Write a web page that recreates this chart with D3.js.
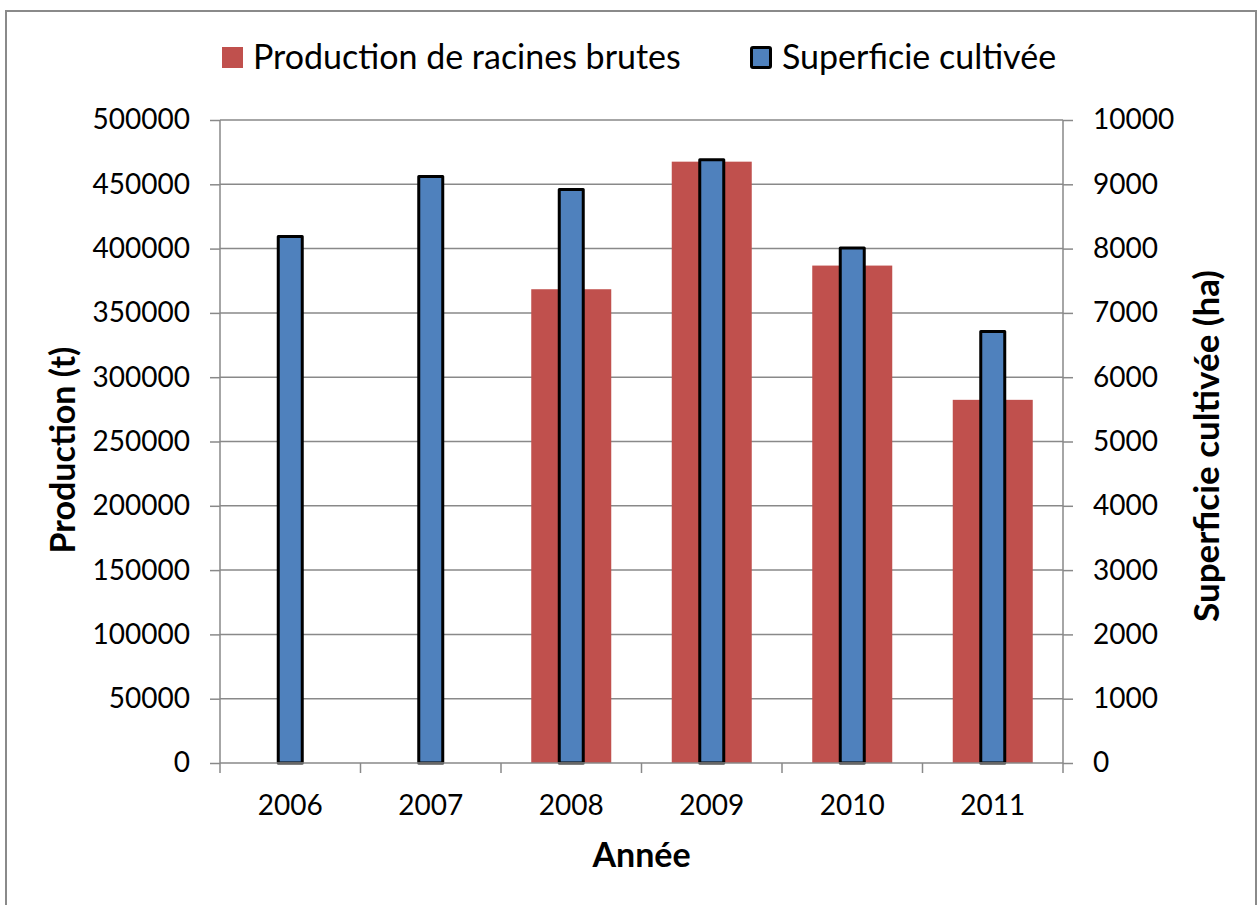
<!DOCTYPE html>
<html>
<head>
<meta charset="utf-8">
<script src="https://cdn.jsdelivr.net/npm/d3@7"></script>
<style>
  body { margin: 0; background: #fff; }
  text { font-family: Lato, "Noto Sans", sans-serif; fill: #000; }
</style>
</head>
<body>
<div class="graph"></div>
<script>
// data
var years = ["2006", "2007", "2008", "2009", "2010", "2011"];
var production = [null, null, 368400, 467600, 386800, 282400];
var superficie = [8190, 9120, 8920, 9380, 8010, 6710];
var leftTicks = [0, 50000, 100000, 150000, 200000, 250000, 300000, 350000, 400000, 450000, 500000];
var rightTicks = [0, 1000, 2000, 3000, 4000, 5000, 6000, 7000, 8000, 9000, 10000];
var seriesNames = ["Production de racines brutes", "Superficie cultivée"];

var W = 1258, H = 905;
var margin = { top: 120, right: 195, bottom: 142, left: 220 };
var width = W - margin.left - margin.right;
var height = H - margin.top - margin.bottom;

var svg = d3.select(".graph").append("svg")
  .attr("width", W)
  .attr("height", H);

// chart frame
svg.append("rect")
  .attr("x", 6).attr("y", 11)
  .attr("width", 1250).attr("height", 910)
  .attr("fill", "none").attr("stroke", "#8a8a8a").attr("stroke-width", 2);

var g = svg.append("g").attr("transform", "translate(" + margin.left + "," + margin.top + ")");

// scales
var x = d3.scaleBand().domain(years).range([0, width]).padding(0);
var yL = d3.scaleLinear().domain([0, 500000]).range([height, 0]);
var yR = d3.scaleLinear().domain([0, 10000]).range([height, 0]);

var gridColor = "#898989";

// gridlines
g.append("g").selectAll("line").data(leftTicks.slice(1)).enter().append("line")
  .attr("x1", 0).attr("x2", width)
  .attr("y1", function (d) { return yL(d); })
  .attr("y2", function (d) { return yL(d); })
  .attr("stroke", gridColor).attr("stroke-width", 1.5);

// red bars (left axis)
var redW = 80;
g.append("g").selectAll("rect")
  .data(years.map(function (y, i) { return { year: y, value: production[i] }; })
    .filter(function (d) { return d.value !== null; }))
  .enter().append("rect")
  .attr("x", function (d) { return x(d.year) + x.bandwidth() / 2 - redW / 2; })
  .attr("width", redW)
  .attr("y", function (d) { return yL(d.value); })
  .attr("height", function (d) { return height - yL(d.value); })
  .attr("fill", "#c0504d");

// blue bars (right axis)
var blueW = 24;
g.append("g").selectAll("rect")
  .data(years.map(function (y, i) { return { year: y, value: superficie[i] }; }))
  .enter().append("rect")
  .attr("x", function (d) { return x(d.year) + x.bandwidth() / 2 - blueW / 2; })
  .attr("width", blueW)
  .attr("y", function (d) { return yR(d.value); })
  .attr("height", function (d) { return height - yR(d.value); })
  .attr("fill", "#4f81bd")
  .attr("stroke", "#000").attr("stroke-width", 3)
  .attr("stroke-linejoin", "round");

// axes
var fs = 28;
var axL = g.append("g").call(d3.axisLeft(yL).tickValues(leftTicks).tickSize(10).tickPadding(20).tickFormat(d3.format("d")));
var axR = g.append("g").attr("transform", "translate(" + width + ",0)")
  .call(d3.axisRight(yR).tickValues(rightTicks).tickSize(10).tickPadding(20).tickFormat(d3.format("d")));
var axB = g.append("g").attr("transform", "translate(0," + height + ")")
  .call(d3.axisBottom(x).tickSize(0).tickPadding(32));

// category boundary ticks
axB.append("g").selectAll("line").data(d3.range(years.length + 1)).enter().append("line")
  .attr("x1", function (i) { return i * x.step(); })
  .attr("x2", function (i) { return i * x.step(); })
  .attr("y1", 0).attr("y2", 10)
  .attr("stroke", gridColor).attr("stroke-width", 1.5);

[axL, axR, axB].forEach(function (a) {
  a.select(".domain").attr("stroke", gridColor).attr("stroke-width", 1.5);
  a.selectAll(".tick line").attr("stroke", gridColor).attr("stroke-width", 1.5);
  a.selectAll("text").style("font-family", "Lato, 'Noto Sans', sans-serif")
    .style("font-size", fs + "px").attr("fill", "#000");
});
axL.select(".domain").attr("d", "M0," + height + "V0");
axR.select(".domain").attr("d", "M0," + height + "V0");
axB.select(".domain").attr("d", "M0,0H" + width);

// axis titles
var titleFs = "34px";
svg.append("text")
  .attr("transform", "translate(75,450) rotate(-90)")
  .attr("text-anchor", "middle")
  .style("font-size", titleFs).style("font-weight", "bold")
  .text("Production (t)");

svg.append("text")
  .attr("transform", "translate(1219,446) rotate(-90)")
  .attr("text-anchor", "middle")
  .style("font-size", "35px").style("font-weight", "bold")
  .text("Superficie cultivée (ha)");

svg.append("text")
  .attr("x", margin.left + width / 2).attr("y", 867)
  .attr("text-anchor", "middle")
  .style("font-size", titleFs).style("font-weight", "bold")
  .text("Année");

// legend
var legFs = "34px";
var legend = svg.append("g");
legend.append("rect")
  .attr("x", 222).attr("y", 47).attr("width", 21).attr("height", 21)
  .attr("fill", "#c0504d");
legend.append("text")
  .attr("x", 253).attr("y", 69)
  .style("font-size", legFs)
  .text(seriesNames[0]);
legend.append("rect")
  .attr("x", 751.5).attr("y", 47.5).attr("width", 19).attr("height", 20)
  .attr("fill", "#4f81bd").attr("stroke", "#000").attr("stroke-width", 3)
  .attr("rx", 1.5);
legend.append("text")
  .attr("x", 782).attr("y", 69)
  .style("font-size", legFs)
  .text(seriesNames[1]);
</script>
</body>
</html>
